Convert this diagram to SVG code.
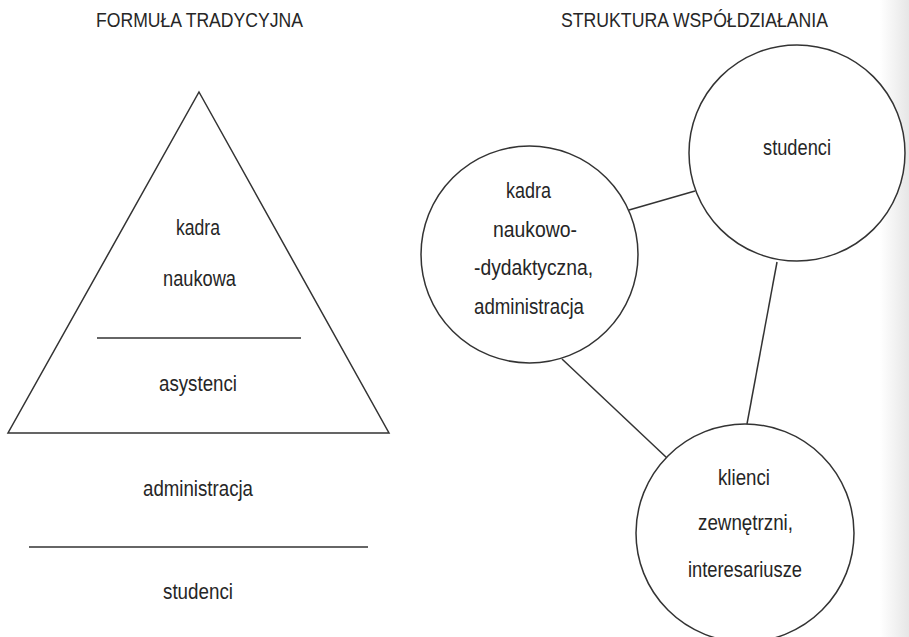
<svg xmlns="http://www.w3.org/2000/svg" width="909" height="637" viewBox="0 0 909 637">
<style>
  text { font-family: "Liberation Sans", Arial, sans-serif; fill: #262626; text-anchor: middle; }
  .t { font-size: 20px; }
  .l { font-size: 22px; }
  .shape { fill: none; stroke: #333; stroke-width: 1.5; }
  .node { fill: #fff; stroke: #333; stroke-width: 1.5; }
  .conn line { stroke: #333; stroke-width: 1.5; }
</style>
<defs>
  <linearGradient id="edge" x1="0" y1="0" x2="1" y2="0">
    <stop offset="0" stop-color="#ffffff"/>
    <stop offset="1" stop-color="#e6e6e6"/>
  </linearGradient>
</defs>
<rect x="0" y="0" width="909" height="637" fill="#fff"/>
<rect x="880" y="0" width="29" height="637" fill="url(#edge)"/>

<g id="titles">
  <text class="t" x="199.5" y="27" textLength="207" lengthAdjust="spacingAndGlyphs">FORMUŁA TRADYCYJNA</text>
  <text class="t" x="694.5" y="27" textLength="267" lengthAdjust="spacingAndGlyphs">STRUKTURA WSPÓŁDZIAŁANIA</text>
</g>

<g id="pyramid">
  <polygon class="shape" points="199,92 389,433 8,433"/>
  <line class="shape" x1="97" y1="338" x2="301" y2="338"/>
  <text class="l" x="198" y="235" textLength="44" lengthAdjust="spacingAndGlyphs">kadra</text>
  <text class="l" x="199.5" y="286" textLength="73" lengthAdjust="spacingAndGlyphs">naukowa</text>
  <text class="l" x="198" y="391" textLength="78" lengthAdjust="spacingAndGlyphs">asystenci</text>
</g>

<g id="lower-levels">
  <text class="l" x="198" y="496" textLength="110" lengthAdjust="spacingAndGlyphs">administracja</text>
  <line class="shape" x1="29" y1="547" x2="368" y2="547"/>
  <text class="l" x="198" y="599" textLength="70" lengthAdjust="spacingAndGlyphs">studenci</text>
</g>

<g id="connectors" class="conn">
  <line x1="629" y1="210" x2="695" y2="191"/>
  <line x1="777" y1="262" x2="747" y2="424"/>
  <line x1="562" y1="359" x2="667" y2="458"/>
</g>

<g id="node-kadra">
  <circle class="node" cx="529.5" cy="254.5" r="108.5"/>
  <text class="l" x="528.5" y="198" textLength="45" lengthAdjust="spacingAndGlyphs">kadra</text>
  <text class="l" x="535" y="237" textLength="84" lengthAdjust="spacingAndGlyphs">naukowo-</text>
  <text class="l" x="533.5" y="275" textLength="119" lengthAdjust="spacingAndGlyphs">-dydaktyczna,</text>
  <text class="l" x="529" y="314" textLength="110" lengthAdjust="spacingAndGlyphs">administracja</text>
</g>

<g id="node-studenci">
  <circle class="node" cx="797" cy="153" r="108"/>
  <text class="l" x="797" y="155" textLength="68" lengthAdjust="spacingAndGlyphs">studenci</text>
</g>

<g id="node-klienci">
  <circle class="node" cx="745" cy="533" r="109"/>
  <text class="l" x="744" y="485" textLength="52" lengthAdjust="spacingAndGlyphs">klienci</text>
  <text class="l" x="745.5" y="530" textLength="95" lengthAdjust="spacingAndGlyphs">zewnętrzni,</text>
  <text class="l" x="745" y="577" textLength="114" lengthAdjust="spacingAndGlyphs">interesariusze</text>
</g>
</svg>
